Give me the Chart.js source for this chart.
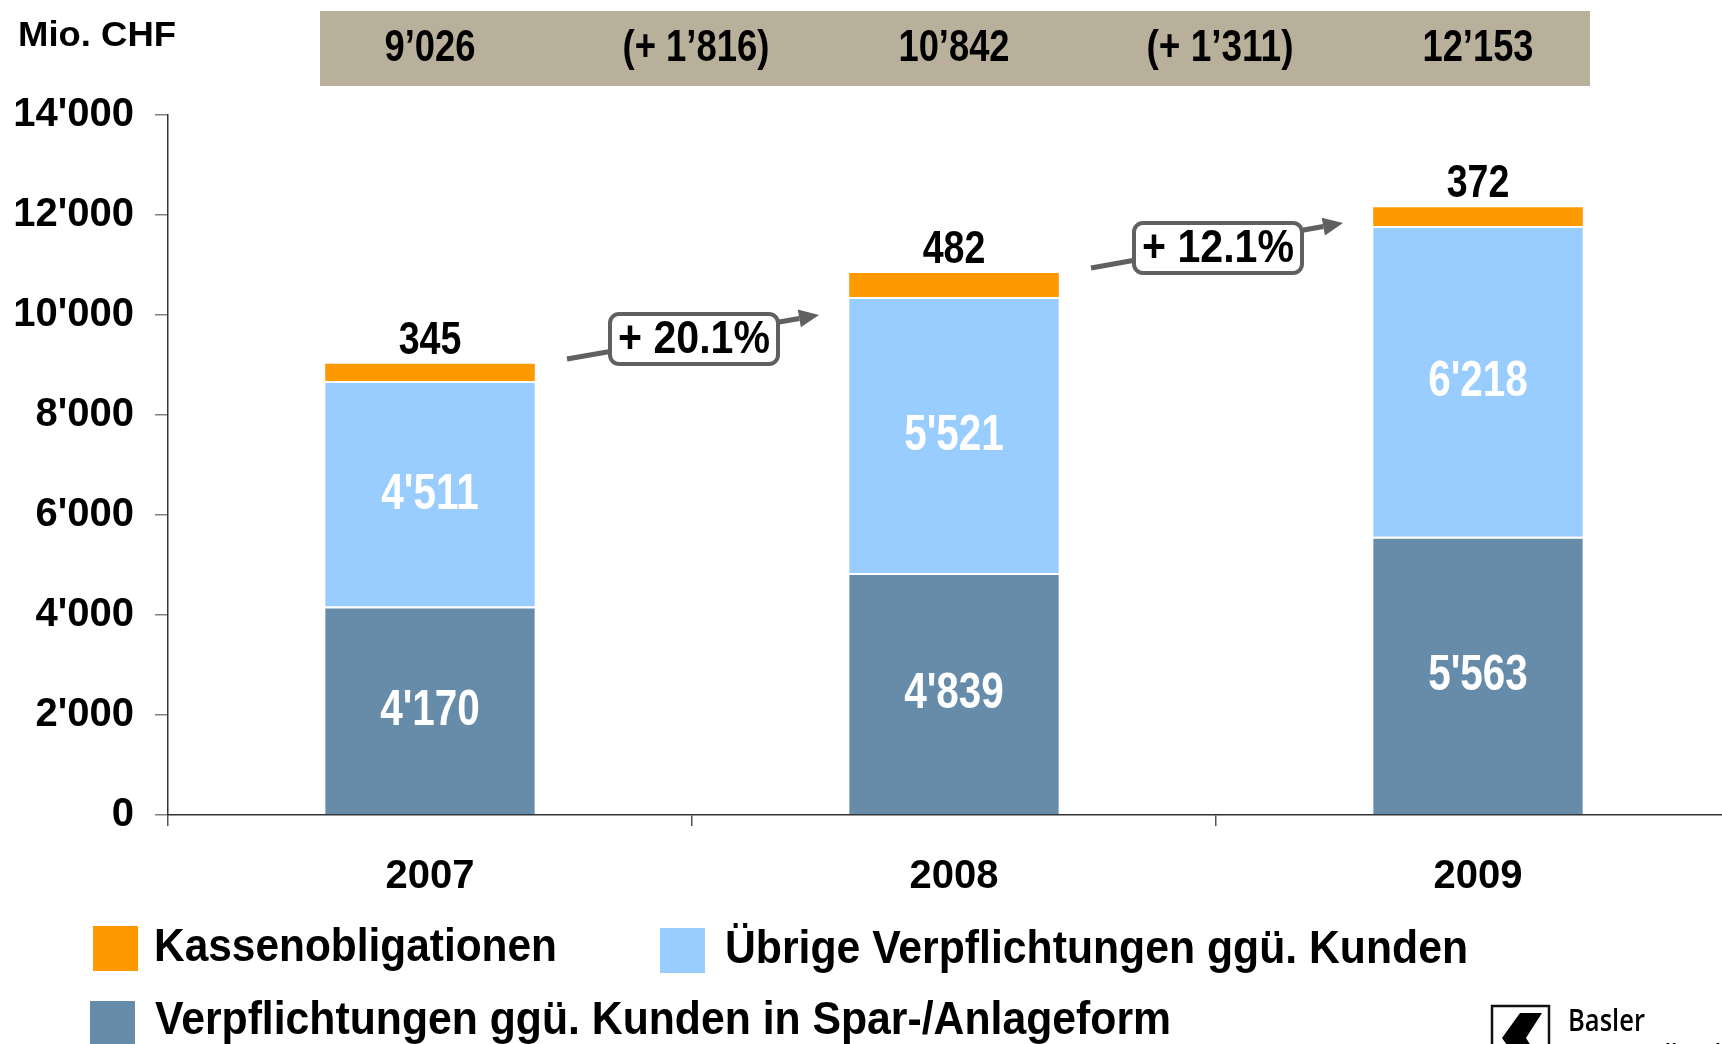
<!DOCTYPE html>
<html>
<head>
<meta charset="utf-8">
<script src="https://cdn.jsdelivr.net/npm/chart.js@4.4.1/dist/chart.umd.min.js"></script>
<style>
html, body { margin: 0; padding: 0; background: #fff; overflow: hidden; width: 1722px; height: 1044px; }
canvas { display: block; }
</style>
</head>
<body>
<!-- canvas a bit wider than the window: the last category is cut at the right edge like in the original -->
<canvas id="chart" width="1740" height="1044"></canvas>
<script>
const years = ['2007', '2008', '2009'];
const sparAnlage = [4170, 4839, 5563];
const uebrige = [4511, 5521, 6218];
const kassenobligationen = [345, 482, 372];
const growth = ['+ 20.1%', '+ 12.1%'];
const yTickValues = [0, 2000, 4000, 6000, 8000, 10000, 12000, 14000];

const FONT = '"Liberation Sans", Arial, sans-serif';

function fmt(n, q) {
    return String(Math.round(n)).replace(/\B(?=(\d{3})+(?!\d))/g, q);
}

// draw text, squeezed horizontally (sx) or to a target width
function txt(ctx, s, x, y, size, opts) {
    opts = opts || {};
    ctx.save();
    ctx.font = (opts.weight || 'bold') + ' ' + size + 'px ' + (opts.family || FONT);
    ctx.fillStyle = opts.color || '#000';
    ctx.textBaseline = opts.baseline || 'middle';
    ctx.textAlign = opts.align || 'center';
    ctx.translate(x, y);
    let sx = opts.sx || 0.8;
    if (opts.width) sx = opts.width / ctx.measureText(s).width;
    ctx.scale(sx, 1);
    ctx.fillText(s, 0, 0);
    ctx.restore();
}

const decor = {
    id: 'decor',
    afterDatasetsDraw(chart) {
        const ctx = chart.ctx;
        const xs = chart.scales.x, ys = chart.scales.y;

        // values in the bars
        [0, 1].forEach(function (i) {
            chart.getDatasetMeta(i).data.forEach(function (bar, j) {
                const v = chart.data.datasets[i].data[j];
                txt(ctx, fmt(v, "'"), bar.x, (bar.y + bar.base) / 2 + 1, 50, {color: '#fff', sx: 0.81});
            });
        });
        chart.getDatasetMeta(2).data.forEach(function (bar, j) {
            txt(ctx, fmt(kassenobligationen[j], "'"), bar.x, bar.y - 10, 47, {baseline: 'alphabetic', sx: 0.8});
        });

        // growth arrows
        const arrows = [
            {from: 9120, to: 10000, box: 9520},
            {from: 10940, to: 11840, box: 11340}
        ];
        arrows.forEach(function (a, k) {
            const bx = (xs.getPixelForValue(k) + xs.getPixelForValue(k + 1)) / 2;
            const x1 = bx - 125, y1 = ys.getPixelForValue(a.from);
            const x2 = bx + 127, y2 = ys.getPixelForValue(a.to);
            const ang = Math.atan2(y2 - y1, x2 - x1);
            const hl = 20, hw = 9;
            ctx.save();
            ctx.strokeStyle = '#606060';
            ctx.fillStyle = '#606060';
            ctx.lineWidth = 5;
            ctx.beginPath();
            ctx.moveTo(x1, y1);
            ctx.lineTo(x2 - hl * Math.cos(ang), y2 - hl * Math.sin(ang));
            ctx.stroke();
            ctx.beginPath();
            ctx.moveTo(x2, y2);
            ctx.lineTo(x2 - hl * Math.cos(ang) + hw * Math.sin(ang), y2 - hl * Math.sin(ang) - hw * Math.cos(ang));
            ctx.lineTo(x2 - hl * Math.cos(ang) - hw * Math.sin(ang), y2 - hl * Math.sin(ang) + hw * Math.cos(ang));
            ctx.closePath();
            ctx.fill();
            const cy = ys.getPixelForValue(a.box);
            const w = 168, h = 50;
            ctx.beginPath();
            ctx.roundRect(bx + 2 - w / 2, cy - h / 2, w, h, 9);
            ctx.fillStyle = '#fff';
            ctx.fill();
            ctx.lineWidth = 4;
            ctx.stroke();
            ctx.restore();
            txt(ctx, growth[k], bx + 2, cy + 1, 46, {width: 152});
        });
    },
    afterDraw(chart) {
        const ctx = chart.ctx;
        const xs = chart.scales.x;

        // unit
        txt(ctx, 'Mio. CHF', 18, 36, 35, {align: 'left', width: 158});

        // totals band
        const c0 = xs.getPixelForValue(0), c2 = xs.getPixelForValue(2);
        ctx.fillStyle = '#B8B09A';
        ctx.fillRect(c0 - 110, 11, c2 - c0 + 222, 75);
        const totals = years.map(function (y, j) {
            return sparAnlage[j] + uebrige[j] + kassenobligationen[j];
        });
        totals.forEach(function (t, j) {
            txt(ctx, fmt(t, '\u2019'), xs.getPixelForValue(j), 49, 45, {width: t >= 10000 ? 111 : 91});
            if (j > 0) {
                const mx = (xs.getPixelForValue(j - 1) + xs.getPixelForValue(j)) / 2;
                txt(ctx, '(+ ' + fmt(t - totals[j - 1], '\u2019') + ')', mx + 4, 49, 45, {width: 147});
            }
        });

        // legend
        const ds = chart.data.datasets;
        const items = [
            {d: ds[2], x: 93, y: 926, h: 45, tx: 154, ty: 948, w: 403},
            {d: ds[1], x: 660, y: 928, h: 45, tx: 725, ty: 950, w: 743},
            {d: ds[0], x: 90, y: 1001, h: 60, tx: 155, ty: 1021, w: 1016}
        ];
        items.forEach(function (it) {
            ctx.fillStyle = it.d.backgroundColor;
            ctx.fillRect(it.x, it.y, 45, it.h);
            txt(ctx, it.d.label, it.tx, it.ty, 47, {align: 'left', width: it.w});
        });

        // logo
        ctx.save();
        ctx.strokeStyle = '#111';
        ctx.lineWidth = 2.5;
        ctx.strokeRect(1492, 1006, 57, 60);
        ctx.fillStyle = '#000';
        ctx.beginPath();
        ctx.moveTo(1492 + 28, 1006 + 7);
        ctx.lineTo(1492 + 50, 1006 + 7);
        ctx.lineTo(1492 + 34, 1006 + 32);
        ctx.lineTo(1492 + 50, 1006 + 57);
        ctx.lineTo(1492 + 28, 1006 + 57);
        ctx.lineTo(1492 + 10, 1006 + 32);
        ctx.closePath();
        ctx.fill();
        ctx.restore();
        txt(ctx, 'Basler', 1568, 1031, 30, {align: 'left', baseline: 'alphabetic', family: '"Open Sans", sans-serif', weight: '600', width: 77});
        txt(ctx, 'Kantonalbank', 1568, 1066, 30, {align: 'left', baseline: 'alphabetic', family: '"Open Sans", sans-serif', weight: '600', width: 160});
    }
};

const tickFont = {family: FONT, size: 40, weight: 'bold'};

new Chart(document.getElementById('chart'), {
    type: 'bar',
    data: {
        labels: years,
        datasets: [{
            label: 'Verpflichtungen ggü. Kunden in Spar-/Anlageform',
            data: sparAnlage,
            backgroundColor: '#668CAA',
            borderColor: '#fff',
            borderWidth: {top: 2, left: 0, right: 0, bottom: 0},
            borderSkipped: false
        }, {
            label: 'Übrige Verpflichtungen ggü. Kunden',
            data: uebrige,
            backgroundColor: '#99CCFF',
            borderColor: '#fff',
            borderWidth: {top: 2, left: 0, right: 0, bottom: 0},
            borderSkipped: false
        }, {
            label: 'Kassenobligationen',
            data: kassenobligationen,
            backgroundColor: '#FF9900',
            borderWidth: 0
        }]
    },
    options: {
        responsive: false,
        animation: false,
        devicePixelRatio: 1,
        layout: {padding: {top: 115, right: 0, bottom: 0, left: 0}},
        datasets: {bar: {categoryPercentage: 1, barPercentage: 0.4}},
        plugins: {
            legend: {display: false},
            tooltip: {enabled: false}
        },
        scales: {
            x: {
                stacked: true,
                grid: {offset: true, drawOnChartArea: false, tickLength: 11, color: '#555', lineWidth: 1.5},
                border: {color: '#333', width: 1.5},
                ticks: {font: tickFont, color: '#000', padding: 27},
                afterFit: function (s) { s.height = 229; }
            },
            y: {
                stacked: true,
                min: 0,
                max: 14000,
                afterBuildTicks: function (s) { s.ticks = yTickValues.map(function (v) { return {value: v}; }); },
                ticks: {
                    font: tickFont,
                    color: '#000',
                    padding: 21,
                    callback: function (v) { return fmt(v, "'"); }
                },
                grid: {drawOnChartArea: false, tickLength: 13, color: '#808080', lineWidth: 1.5},
                border: {color: '#333', width: 1.5},
                afterFit: function (s) { s.width = 168; }
            }
        }
    },
    plugins: [decor]
});
</script>
</body>
</html>
